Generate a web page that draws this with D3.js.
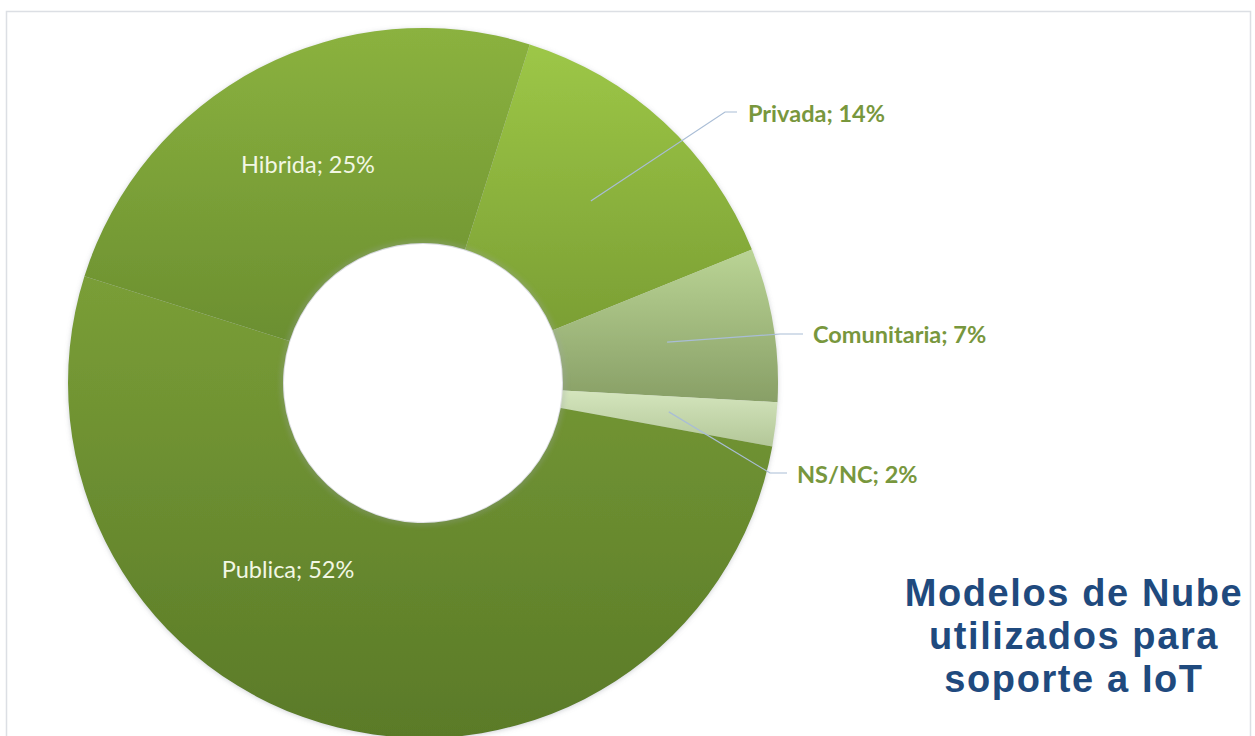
<!DOCTYPE html>
<html lang="es">
<head>
<meta charset="utf-8">
<title>Modelos de Nube utilizados para soporte a IoT</title>
<script src="https://cdn.jsdelivr.net/npm/d3@7/dist/d3.min.js"></script>
<style>
  html, body { margin: 0; padding: 0; background: #ffffff; }
  svg { display: block; }
</style>
</head>
<body>
<div id="chart"></div>
<script>
// Cloud models used to support IoT (share of respondents)
const categories = ["Privada", "Comunitaria", "NS/NC", "Publica", "Hibrida"];
const shares = [14, 7, 2, 52, 25];
const titleLines = ["Modelos de Nube", "utilizados para", "soporte a IoT"];

// Slice fills: vertical gradient, light at the top, darker at the bottom
const gradTop = ["#9dc747", "#bad495", "#d4e5bd", "#7a9e37", "#8bb23f"];
const gradBottom = ["#7b9f34", "#889f66", "#b3c798", "#5a7a28", "#6b8f30"];

const W = 1255, H = 736;
const cx = 423, cy = 383;
const outerR = 355, innerR = 140;
const startDeg = 17.5;

// Label placement relative to the donut centre
const labelLayout = {
  "Privada":     { outside: true, tx: 325, ty: -261, ex: 302, ey: -271, hx: 314 },
  "Comunitaria": { outside: true, tx: 390, ty: -40,  ex: 357, ey: -49,  hx: 380 },
  "NS/NC":       { outside: true, tx: 374, ty: 100,  ex: 347, ey: 90,   hx: 364 },
  "Publica":     { outside: false, tx: -135, ty: 195 },
  "Hibrida":     { outside: false, tx: -115, ty: -210 }
};

const data = categories.map((c, i) => ({ name: c, value: shares[i], i }));

const svg = d3.select("#chart").append("svg")
  .attr("width", W).attr("height", H)
  .attr("viewBox", `0 0 ${W} ${H}`);

const defs = svg.append("defs");

data.forEach(d => {
  const g = defs.append("linearGradient")
    .attr("id", "grad" + d.i)
    .attr("x1", 0).attr("y1", 0).attr("x2", 0).attr("y2", 1);
  g.append("stop").attr("offset", "0%").attr("stop-color", gradTop[d.i]);
  g.append("stop").attr("offset", "100%").attr("stop-color", gradBottom[d.i]);
});

const shadow = defs.append("filter").attr("id", "soft")
  .attr("x", "-10%").attr("y", "-10%").attr("width", "120%").attr("height", "120%");
shadow.append("feDropShadow")
  .attr("dx", 0).attr("dy", 1).attr("stdDeviation", 2.5)
  .attr("flood-color", "#7a7f88").attr("flood-opacity", 0.35);

const innerShadow = defs.append("filter").attr("id", "holeGlow")
  .attr("x", "-20%").attr("y", "-20%").attr("width", "140%").attr("height", "140%");
innerShadow.append("feGaussianBlur").attr("stdDeviation", 2.5);

// Chart area frame
svg.append("rect")
  .attr("x", 6.5).attr("y", 11.5)
  .attr("width", 1244).attr("height", 760)
  .attr("fill", "#ffffff")
  .attr("stroke", "#dcdfe4").attr("stroke-width", 1.5);

const pie = d3.pie()
  .sort(null)
  .value(d => d.value)
  .startAngle(startDeg * Math.PI / 180)
  .endAngle(startDeg * Math.PI / 180 + 2 * Math.PI);

const arcs = pie(data);

const arc = d3.arc().innerRadius(innerR).outerRadius(outerR);
const midArc = d3.arc().innerRadius((innerR + outerR) / 2).outerRadius((innerR + outerR) / 2);

const g = svg.append("g").attr("transform", `translate(${cx},${cy})`);

const ring = g.append("g").attr("filter", "url(#soft)");
ring.selectAll("path.slice")
  .data(arcs)
  .join("path")
  .attr("class", "slice")
  .attr("d", arc)
  .attr("fill", d => `url(#grad${d.data.i})`);

// soft grey rim round the hole
g.append("circle")
  .attr("r", innerR + 0.5)
  .attr("fill", "none")
  .attr("stroke", "#9ea3ad")
  .attr("stroke-opacity", 0.45)
  .attr("stroke-width", 3)
  .attr("filter", "url(#holeGlow)");
g.append("circle")
  .attr("r", innerR - 1)
  .attr("fill", "#ffffff");

// Leader lines for the small slices
const outside = arcs.filter(d => labelLayout[d.data.name].outside);
g.selectAll("polyline.leader")
  .data(outside)
  .join("polyline")
  .attr("class", "leader")
  .attr("fill", "none")
  .attr("stroke", "#a9bdd6")
  .attr("stroke-width", 1.2)
  .attr("points", d => {
    const L = labelLayout[d.data.name];
    const c = midArc.centroid(d);
    return [c, [L.ex, L.ey], [L.hx, L.ey]].map(p => p.join(",")).join(" ");
  });

g.selectAll("text.outLabel")
  .data(outside)
  .join("text")
  .attr("class", "outLabel")
  .attr("x", d => labelLayout[d.data.name].tx)
  .attr("y", d => labelLayout[d.data.name].ty)
  .attr("font-family", "Lato, 'Open Sans', sans-serif")
  .attr("font-weight", 700)
  .attr("font-size", 23.5)
  .attr("fill", "#78973d")
  .text(d => `${d.data.name}; ${d.data.value}%`);

const inside = arcs.filter(d => !labelLayout[d.data.name].outside);
g.selectAll("text.inLabel")
  .data(inside)
  .join("text")
  .attr("class", "inLabel")
  .attr("x", d => labelLayout[d.data.name].tx)
  .attr("y", d => labelLayout[d.data.name].ty)
  .attr("text-anchor", "middle")
  .attr("font-family", "Lato, 'Open Sans', sans-serif")
  .attr("font-weight", 400)
  .attr("font-size", 23.5)
  .attr("fill", "#f2f7e4")
  .text(d => `${d.data.name}; ${d.data.value}%`);

// Title block, lower right: one text per line
svg.append("g")
  .selectAll("text.title")
  .data(titleLines)
  .join("text")
  .attr("class", "title")
  .attr("x", 1074)
  .attr("y", (d, i) => 606 + i * 43)
  .attr("text-anchor", "middle")
  .attr("font-family", "'Liberation Sans', Arial, sans-serif")
  .attr("font-weight", 700)
  .attr("font-size", 38)
  .attr("letter-spacing", 1.6)
  .attr("fill", "#1f4a7e")
  .text(d => d);
</script>
</body>
</html>
